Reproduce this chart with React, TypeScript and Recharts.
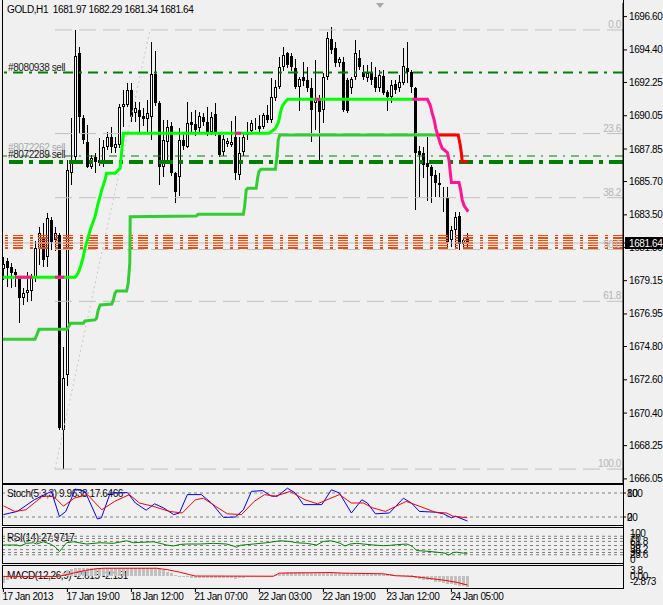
import React from 'react';
import { ComposedChart, Bar, Line, XAxis, YAxis, ReferenceLine, ReferenceDot } from 'recharts';

const FONT = '"Liberation Sans", Arial, sans-serif';
const TEXT = { fontFamily: FONT, fontSize: 10, letterSpacing: -0.4 };

// bar index axis: 0 = first visible H1 bar
const X_DOMAIN: [number, number] = [-0.1, 154.9];
const PRICE_DOMAIN: [number, number] = [1665.78, 1697.5];

const opens = [
  1679.90, 1680.47, 1680.03, 1679.70, 1679.31, 1677.99, 1678.32, 1678.50, 1679.42, 1681.25,
  1682.00, 1680.74, 1683.16, 1681.84, 1682.17, 1669.30, 1672.92, 1686.25, 1687.35, 1694.18,
  1689.90, 1688.34, 1686.69, 1687.30, 1687.13, 1686.90, 1688.00, 1688.67, 1687.90, 1688.12,
  1690.61, 1690.76, 1691.75, 1690.21, 1690.43, 1690.04, 1689.82, 1689.99, 1692.81, 1690.87,
  1686.69, 1688.34, 1689.38, 1686.25, 1686.03, 1688.45, 1688.01, 1689.66, 1689.50, 1689.22,
  1689.99, 1689.66, 1689.00, 1690.15, 1688.78, 1687.68, 1688.20, 1688.12, 1688.67, 1686.14,
  1687.68, 1688.78, 1689.07, 1689.72, 1689.38, 1689.33, 1690.10, 1689.77, 1691.20, 1691.97,
  1693.30, 1694.18, 1694.00, 1693.19, 1691.97, 1692.64, 1692.42, 1691.86, 1690.87, 1691.14,
  1690.43, 1692.64, 1695.10, 1694.51, 1693.52, 1693.63, 1692.42, 1691.86, 1692.64, 1693.85,
  1692.97, 1692.53, 1692.90, 1692.59, 1691.86, 1692.68, 1691.64, 1691.27, 1692.15, 1691.86,
  1692.24, 1693.19, 1692.97, 1691.86, 1687.75, 1687.57, 1686.91, 1686.69, 1686.14, 1685.63,
  1684.60, 1684.60, 1681.84, 1682.50, 1683.43, 1681.58, 1681.97,
];
const highs = [
  1680.74, 1680.63, 1680.30, 1679.90, 1679.42, 1678.65, 1679.75, 1679.60, 1681.80, 1682.72,
  1682.94, 1683.65, 1683.38, 1682.72, 1682.30, 1674.80, 1687.13, 1689.88, 1695.72, 1694.62,
  1690.10, 1689.44, 1687.46, 1687.57, 1688.56, 1688.45, 1689.00, 1689.33, 1688.67, 1690.80,
  1691.75, 1692.20, 1692.20, 1690.98, 1690.98, 1690.54, 1691.09, 1694.95, 1694.35, 1691.00,
  1689.77, 1689.77, 1689.66, 1686.36, 1689.22, 1688.89, 1690.98, 1690.32, 1690.43, 1690.32,
  1690.21, 1690.61, 1690.32, 1690.92, 1688.90, 1688.78, 1688.60, 1689.70, 1690.00, 1688.67,
  1688.90, 1689.66, 1689.77, 1689.90, 1690.10, 1690.20, 1690.76, 1692.53, 1692.40, 1693.96,
  1694.62, 1694.29, 1694.18, 1693.78, 1692.64, 1693.63, 1693.30, 1692.53, 1693.74, 1691.42,
  1692.86, 1695.61, 1695.94, 1694.95, 1693.90, 1693.96, 1692.53, 1692.64, 1695.06, 1694.40,
  1693.41, 1693.41, 1693.63, 1693.30, 1693.08, 1693.08, 1691.75, 1692.42, 1692.42, 1692.75,
  1694.51, 1694.95, 1693.08, 1691.97, 1688.05, 1688.00, 1688.67, 1686.80, 1686.47, 1686.25,
  1685.37, 1685.37, 1682.77, 1683.71, 1683.71, 1682.06, 1682.29,
];
const lows = [
  1679.20, 1678.76, 1678.65, 1678.76, 1676.38, 1677.55, 1677.77, 1677.80, 1679.09, 1680.20,
  1680.08, 1680.08, 1681.18, 1681.10, 1669.30, 1666.73, 1672.20, 1685.48, 1687.00, 1688.90,
  1688.20, 1686.60, 1686.50, 1686.25, 1686.70, 1686.69, 1687.80, 1687.60, 1687.60, 1687.90,
  1689.33, 1690.60, 1689.66, 1689.66, 1689.00, 1689.40, 1689.00, 1688.45, 1690.70, 1685.48,
  1686.03, 1687.13, 1686.10, 1684.31, 1684.75, 1687.80, 1687.90, 1688.90, 1688.70, 1689.00,
  1689.40, 1688.70, 1688.80, 1688.70, 1687.30, 1687.40, 1688.00, 1688.00, 1685.80, 1685.80,
  1687.40, 1688.45, 1688.90, 1689.10, 1689.00, 1689.20, 1689.60, 1689.55, 1691.00, 1691.80,
  1693.00, 1693.20, 1693.00, 1691.80, 1690.39, 1692.00, 1691.60, 1688.34, 1689.11, 1687.13,
  1689.55, 1692.40, 1694.10, 1693.30, 1693.30, 1690.32, 1690.20, 1691.50, 1692.40, 1693.10,
  1692.40, 1692.30, 1692.10, 1691.60, 1691.60, 1691.40, 1690.39, 1690.92, 1691.50, 1691.60,
  1692.08, 1692.20, 1691.53, 1683.82, 1684.70, 1685.92, 1684.40, 1684.27, 1684.70, 1684.70,
  1683.71, 1681.40, 1681.40, 1681.40, 1681.18, 1681.29, 1681.34,
];
const closes = [
  1680.25, 1679.97, 1679.64, 1679.50, 1677.99, 1678.32, 1678.54, 1679.30, 1681.30, 1682.28,
  1680.52, 1683.27, 1681.73, 1682.28, 1669.40, 1672.70, 1686.47, 1687.13, 1694.00, 1689.99,
  1688.45, 1686.69, 1687.24, 1687.00, 1686.91, 1688.00, 1688.67, 1688.00, 1688.19, 1690.61,
  1690.83, 1691.75, 1689.99, 1690.54, 1689.99, 1689.86, 1690.21, 1692.81, 1690.92, 1686.69,
  1688.45, 1689.33, 1686.29, 1685.04, 1688.45, 1688.05, 1689.55, 1689.44, 1689.11, 1690.04,
  1689.66, 1688.94, 1689.99, 1688.94, 1687.46, 1688.52, 1688.35, 1688.34, 1686.25, 1687.57,
  1688.63, 1689.00, 1689.60, 1689.77, 1689.15, 1690.10, 1689.77, 1691.31, 1691.97, 1693.30,
  1694.07, 1693.41, 1693.30, 1691.97, 1692.46, 1692.37, 1691.86, 1690.43, 1691.20, 1690.32,
  1692.64, 1695.17, 1694.40, 1693.56, 1693.78, 1690.43, 1690.39, 1692.46, 1694.18, 1693.30,
  1692.64, 1692.90, 1692.42, 1691.86, 1692.75, 1691.58, 1691.27, 1692.08, 1691.75, 1692.31,
  1693.34, 1692.97, 1691.97, 1687.61, 1687.46, 1686.80, 1686.69, 1686.07, 1685.63, 1685.48,
  1684.70, 1681.73, 1682.50, 1683.38, 1681.58, 1681.84, 1681.64,
];

const priceTicks = [
  1696.6, 1694.4, 1692.25, 1690.05, 1687.85, 1685.7, 1683.5, 1681.35,
  1679.15, 1676.95, 1674.8, 1672.6, 1670.4, 1668.25, 1666.05,
];
const BID = 1681.64;

// trend-stop lines, vertices as [bar index, price]
const limeLine: [number, number][] = [
  [-0.1, 1679.38], [17.9, 1679.38], [18.4, 1679.53], [18.9, 1679.79], [19.4, 1680.19], [19.9, 1680.65],
  [20.4, 1681.29], [21.7, 1682.5], [22.9, 1683.38], [23.7, 1684.27], [24.6, 1685.15], [25.4, 1685.81],
  [25.8, 1686.25], [27.9, 1686.25], [29.2, 1686.58], [29.6, 1687.79], [30.0, 1688.89], [66.4, 1688.89],
  [67.9, 1689.18], [68.7, 1689.58], [69.0, 1689.91], [69.4, 1690.43], [69.9, 1690.76], [70.5, 1690.98],
  [71.1, 1691.14], [102.2, 1691.14],
];
const limePinkA: [number, number][] = [[2.9, 1679.38], [7.2, 1679.38]];
const limePinkB: [number, number][] = [[12.9, 1679.38], [15.2, 1679.38]];
const limePinkC: [number, number][] = [[57.9, 1688.89], [59.4, 1688.89]];
const limePinkD: [number, number][] = [[77.9, 1691.14], [79.2, 1691.14]];
const pinkTail: [number, number][] = [
  [102.2, 1691.14], [106.0, 1691.14], [106.7, 1690.76], [107.2, 1690.22], [107.7, 1689.77], [108.1, 1689.22],
  [108.7, 1688.67], [109.2, 1688.23], [109.7, 1687.9], [111.0, 1687.61], [111.4, 1687.13], [111.7, 1686.36],
  [112.0, 1685.63], [113.9, 1685.63], [114.3, 1685.15], [114.7, 1684.49], [115.2, 1684.09], [116.2, 1683.71],
];
const greenLine: [number, number][] = [
  [-0.1, 1675.28], [7.9, 1675.28], [8.4, 1675.6], [8.9, 1675.94], [15.9, 1675.94], [16.3, 1676.1],
  [16.7, 1676.34], [20.0, 1676.34], [20.4, 1676.49], [22.9, 1676.56], [23.3, 1676.67], [23.7, 1677.22],
  [24.2, 1677.55], [27.1, 1677.61], [27.5, 1677.88], [27.9, 1678.32], [28.3, 1678.47], [30.8, 1678.47],
  [31.2, 1678.98], [31.6, 1680.3], [31.7, 1683.38], [48.2, 1683.43], [48.7, 1683.54], [60.0, 1683.54],
  [60.3, 1684.04], [60.7, 1685.15], [61.1, 1685.26], [63.2, 1685.26], [63.6, 1686.02], [63.9, 1686.36],
  [64.4, 1686.51], [68.0, 1686.51], [68.3, 1687.13], [68.6, 1688.01], [68.7, 1688.45], [69.1, 1688.78],
  [108.1, 1688.78],
];
const redTail: [number, number][] = [
  [108.1, 1688.78], [113.7, 1688.78], [114.2, 1688.12], [114.5, 1687.57], [114.7, 1687.02], [116.2, 1687.02],
];

// order lines
const sellOrderA = 1692.9;
const sellOrderB = 1687.39;
const sellStopB = 1687.0;
const pendingLevels = [1682.14, 1681.97, 1681.81, 1681.64, 1681.48, 1681.31];

// fibonacci retracement
const fibLow: [number, number] = [12.9, 1666.7];
const fibHigh: [number, number] = [36.65, 1695.72];
const fibRatios = [0, 23.6, 38.2, 50, 61.8, 100];

// Stochastic(5,3,3)
const stochK: [number, number][] = [
  [0, 26], [3.5, 34], [7.7, 63], [12, 84], [14, 21], [15.6, 34], [18, 90], [20.4, 84], [23.5, 15],
  [24.5, 18], [26.7, 80], [31, 81], [33, 55], [35.7, 37], [37.8, 53], [40, 43], [42.6, 26], [44, 30],
  [46, 76], [49.5, 76], [52, 55], [55, 19], [58, 20], [60, 38], [62, 84], [64.8, 86], [67, 72],
  [68.5, 72], [71, 92], [73, 80], [75, 51], [79.6, 51], [82, 88], [84, 80], [87, 30], [89.6, 63],
  [91, 55], [93, 28], [96.5, 30], [100, 67], [102, 55], [104, 34], [108, 32], [110, 28], [112, 18],
  [113, 22], [116, 10],
];
const stochD: [number, number][] = [
  [0, 48], [2.8, 34], [5.6, 38], [9.8, 72], [12.5, 72], [15, 47], [17.7, 67], [21, 76], [24.6, 38],
  [27.8, 59], [31.5, 76], [34, 55], [37.3, 47], [41.5, 34], [44.7, 30], [48, 63], [50, 67], [53, 47],
  [56, 28], [59.5, 26], [62.7, 59], [65.3, 76], [68, 72], [71.7, 84], [75.4, 63], [78.5, 53], [84, 76],
  [87, 55], [90, 55], [92.3, 43], [95.5, 34], [100.7, 59], [104, 47], [108, 32], [110.8, 30],
  [112.4, 22], [116, 18],
];

// RSI(14)
const rsi: [number, number][] = [
  [0, 51.4], [3.4, 51.4], [4.2, 48.6], [5.8, 56.2], [7.5, 57.9], [8.3, 54.2], [10, 60.7], [11.7, 54.2],
  [12.9, 46.6], [14, 32.6], [15, 46.6], [15.8, 57.9], [17.5, 60.7], [20.8, 54.2], [24.2, 57.9],
  [27.5, 56.2], [30.8, 63.5], [32.5, 57.9], [34.2, 59], [37.5, 60.7], [39.2, 56.2], [40.8, 51.4],
  [42.5, 48.6], [44.2, 53], [45.8, 54.2], [49.2, 54.2], [52.5, 56.2], [55.8, 54.2], [57.5, 48.6],
  [58.3, 44.9], [59.2, 50.5], [62.5, 54.2], [65.8, 57.9], [69.2, 63.5], [71.7, 61.5], [73.3, 57.9],
  [75.8, 56.2], [78.3, 51.4], [80, 61.5], [81.7, 63.5], [82.9, 60.7], [84.2, 56.2], [85.4, 48.6],
  [86.7, 54.2], [88.3, 56.2], [90, 54.2], [92.5, 51.4], [95, 49.5], [96.7, 50.5], [98.3, 52.3],
  [100.8, 54.2], [101.7, 50.5], [102.5, 44.9], [103.3, 35.5], [105.8, 33.7], [108.3, 30.9],
  [110.4, 28.1], [111.3, 22.5], [112.5, 30], [113.3, 30.9], [115, 28.1], [116, 28],
];
const rsiLevels = [76.4, 70, 61.8, 50, 38.2, 30, 23.6];
const rsiLabels = [100, 70, 61.8, 50, 38.2, 30, 23.6, 0];

// MACD(12,26,9)
const macdHist = [
  -1.6, -0.8, -0.05, -0.05, -0.05, -0.05, -0.05, -0.05, -0.05, -0.05,
  -0.05, -0.05, -0.05, -0.05, 0.2, 0.9, 1.4, 1.7, 1.95, 2.0,
  2.05, 2.1, 2.1, 2.05, 2.05, 2.1, 2.1, 2.05, 2.05, 2.1,
  2.1, 2.1, 2.05, 2.05, 2.0, 2.0, 2.0, 2.05, 1.95, 1.7,
  1.4, 1.1, 0.76, 0.36, 0.12, -0.05, -0.3, -0.4, -0.45, -0.5,
  -0.45, -0.4, -0.35, -0.4, -0.5, -0.55, -0.5, -0.45, -0.6, -0.5,
  -0.4, -0.3, -0.2, -0.15, -0.1, -0.05, 0.05, 0.15, 0.36, 0.76,
  0.9, 1.0, 1.05, 1.0, 0.95, 0.95, 0.9, 0.85, 0.85, 0.8,
  0.85, 1.0, 0.95, 0.9, 0.85, 0.75, 0.7, 0.65, 0.75, 0.75,
  0.7, 0.65, 0.6, 0.55, 0.55, 0.5, 0.45, 0.45, 0.4, 0.35,
  0.4, 0.35, 0.2, -0.4, -0.6, -0.8, -0.9, -1.0, -1.3, -1.5,
  -1.6, -1.8, -1.9, -2.1, -2.3, -2.45, -2.6,
];
const macdSignal: [number, number][] = [
  [0, -0.05], [13.5, -0.05], [16, 0.4], [18, 0.9], [20.5, 1.4], [23, 1.8], [25, 1.95], [38.3, 1.95],
  [41, 1.6], [44, 1.0], [46.5, 0.4], [48, 0.05], [67.5, 0.0], [69, 0.76], [81.7, 0.9], [85, 0.76],
  [95, 0.6], [98, 0.12], [102.4, -0.05], [107, -0.6], [110.4, -1.0], [113.3, -1.48], [116, -2.15],
];
const MACD_DOMAIN: [number, number] = [-2.873, 2.74];

const timeTicks = [0, 16, 32, 48, 64, 80, 96, 112];
const timeLabels = [
  '17 Jan 2013', '17 Jan 19:00', '18 Jan 12:00', '21 Jan 07:00',
  '22 Jan 03:00', '22 Jan 19:00', '23 Jan 12:00', '24 Jan 05:00',
];

const candles = opens.map((o, i) => ({
  i, o, h: highs[i], l: lows[i], c: closes[i], range: [lows[i], highs[i]],
}));
const macdRows = macdHist.map((h, i) => ({ i, h }));
const pts = (a: [number, number][]) => a.map(([i, v]) => ({ i, v }));

function Candle(props: any) {
  const { x, y, width, height, payload } = props;
  if (x == null || y == null || !payload) return null;
  const { o, h, l, c } = payload;
  const top = height >= 0 ? y : y + height;
  const hgt = Math.abs(height);
  const k = h > l ? hgt / (h - l) : 0;
  const py = (p: number) => top + (h - p) * k;
  const cx = Math.floor(x + width / 2) + 0.5;
  const yh = Math.round(py(h));
  const yl = Math.round(py(l));
  const bt = Math.round(py(Math.max(o, c)));
  let bb = Math.round(py(Math.min(o, c)));
  if (bb <= bt) bb = bt + 1;
  return (
    <g>
      <line x1={cx} x2={cx} y1={yh} y2={yl} stroke="#000" strokeWidth={1} />
      {c >= o ? (
        <rect x={cx - 1} y={bt + 0.5} width={2} height={Math.max(0, bb - bt - 1)} fill="#fff" stroke="#000" strokeWidth={1} />
      ) : (
        <rect x={cx - 1.5} y={bt} width={3} height={bb - bt} fill="#000" />
      )}
    </g>
  );
}

// histogram column, 3px wide, snapped to whole pixels
function HistBar(props: any) {
  const { x, y, width, height } = props;
  if (x == null || y == null) return null;
  const top = Math.round(height >= 0 ? y : y + height);
  const bottom = Math.round(height >= 0 ? y + height : y);
  const cx = Math.floor(x + width / 2);
  return <rect x={cx - 1} y={top} width={3} height={Math.max(1, bottom - top)} fill="#c0c0c0" />;
}

function PriceTick(props: any) {
  const { x, y, payload } = props;
  const v = payload.value;
  if (v === BID) {
    return (
      <g>
        <rect x={625} y={y - 6} width={38} height={12} fill="#000" />
        <text x={629} y={y} dy="0.35em" fill="#fff" style={TEXT}>{v.toFixed(2)}</text>
      </g>
    );
  }
  return <text x={x} y={y} dy="0.35em" textAnchor="start" fill="#000" style={TEXT}>{v.toFixed(2)}</text>;
}

function TimeTick(props: any) {
  const { x, y, payload } = props;
  const label = timeLabels[timeTicks.indexOf(payload.value)];
  return <text x={x - 1} y={y} dy="0.71em" textAnchor="start" fill="#000" style={TEXT}>{label}</text>;
}

const lineProps = { dataKey: 'v', type: 'linear' as const, dot: false, activeDot: false, isAnimationActive: false };

function MainChart() {
  const fibLevels = fibRatios.map((r) => fibHigh[1] - (r / 100) * (fibHigh[1] - fibLow[1]));
  return (
    <ComposedChart width={663} height={484} data={candles} margin={{ top: 3, right: 0, bottom: 1, left: 3 }}>
      <XAxis dataKey="i" type="number" domain={X_DOMAIN} allowDataOverflow hide />
      <YAxis
        orientation="right"
        type="number"
        domain={PRICE_DOMAIN}
        allowDataOverflow
        ticks={[...priceTicks, BID]}
        interval={0}
        width={40}
        tickSize={4}
        tickMargin={2}
        axisLine={{ stroke: '#000' }}
        tickLine={{ stroke: '#000' }}
        tick={(p: any) => <PriceTick {...p} />}
      />
      {fibLevels.map((lv) => (
        <ReferenceLine
          key={'fib' + lv}
          segment={[{ x: fibLow[0], y: lv }, { x: X_DOMAIN[1], y: lv }]}
          stroke="#c0c0c0"
          strokeDasharray="17 7"
        />
      ))}
      <ReferenceLine
        segment={[{ x: fibLow[0], y: fibLow[1] }, { x: fibHigh[0], y: fibHigh[1] }]}
        stroke="#c8c8c8"
        strokeDasharray="2 3"
      />
      {fibLevels.map((lv, k) => (
        <ReferenceDot
          key={'fibl' + lv}
          x={X_DOMAIN[1]}
          y={lv}
          r={0}
          ifOverflow="visible"
          shape={(p: any) => (
            <text x={p.cx - 2} y={p.cy - 2} textAnchor="end" fill="#b4b4b4" style={TEXT}>
              {fibRatios[k].toFixed(1)}
            </text>
          )}
        />
      ))}
      {pendingLevels.map((lv) => (
        <ReferenceLine
          key={'pd' + lv}
          y={lv}
          stroke="#ff4500"
          strokeWidth={1.8}
          strokeDasharray="10 5 3 7"
          shapeRendering="crispEdges"
        />
      ))}
      <ReferenceLine y={BID} stroke="#c0c0c0" />
      <ReferenceLine y={sellOrderA} stroke="#008000" strokeWidth={2} strokeDasharray="10 6 3 6" />
      <ReferenceLine y={sellOrderB} stroke="#008000" strokeWidth={1} strokeDasharray="8 6 2 6" />
      <ReferenceLine y={sellStopB} stroke="#008000" strokeWidth={4} strokeDasharray="14 6 4 6" />
      <ReferenceDot
        x={X_DOMAIN[0]}
        y={sellOrderA}
        r={0}
        ifOverflow="visible"
        shape={(p: any) => (
          <text x={p.cx + 5} y={p.cy - 1.5} fill="#202020" style={TEXT}>#8080938 sell</text>
        )}
      />
      <ReferenceDot
        x={X_DOMAIN[0]}
        y={sellOrderB}
        r={0}
        ifOverflow="visible"
        shape={(p: any) => (
          <g>
            <text x={p.cx + 5} y={p.cy - 5} fill="#a8a8a8" style={TEXT}>#8072262 sell</text>
            <text x={p.cx + 5} y={p.cy + 2} fill="#202020" style={TEXT}>#8072289 sell</text>
          </g>
        )}
      />
      <Bar dataKey="range" barSize={3} shape={(p: any) => <Candle {...p} />} isAnimationActive={false} />
      <Line data={pts(greenLine)} {...lineProps} stroke="#32cd32" strokeWidth={3} />
      <Line data={pts(redTail)} {...lineProps} stroke="#ff0000" strokeWidth={3} />
      <Line data={pts(limeLine)} {...lineProps} stroke="#00ff00" strokeWidth={3} />
      <Line data={pts(limePinkA)} {...lineProps} stroke="#ff1493" strokeWidth={3} />
      <Line data={pts(limePinkB)} {...lineProps} stroke="#ff1493" strokeWidth={3} />
      <Line data={pts(limePinkC)} {...lineProps} stroke="#ff1493" strokeWidth={3} />
      <Line data={pts(limePinkD)} {...lineProps} stroke="#ff1493" strokeWidth={3} />
      <Line data={pts(pinkTail)} {...lineProps} stroke="#ff1493" strokeWidth={3} />
    </ComposedChart>
  );
}

function StochChart() {
  return (
    <ComposedChart width={663} height={40} margin={{ top: 0, right: 0, bottom: 0, left: 3 }}>
      <XAxis dataKey="i" type="number" domain={X_DOMAIN} allowDataOverflow hide />
      <YAxis
        orientation="right"
        type="number"
        domain={[0, 100]}
        ticks={[80, 20]}
        interval={0}
        width={40}
        tickSize={3}
        tickMargin={1}
        axisLine={false}
        tickLine={{ stroke: '#000' }}
        tick={(p: any) => (
          <g>
            <text x={p.x} y={p.y} dy="0.35em" fill="#000" style={TEXT}>{p.payload.value}</text>
            <text x={p.x} y={p.y} dy="0.35em" fill="#000" style={TEXT}>{p.payload.value === 80 ? '100' : '0'}</text>
          </g>
        )}
      />
      <ReferenceLine y={80} stroke="#808080" strokeDasharray="3 3" />
      <ReferenceLine y={20} stroke="#808080" strokeDasharray="3 3" />
      <Line data={pts(stochK)} {...lineProps} stroke="#0000ff" strokeWidth={1} />
      <Line data={pts(stochD)} {...lineProps} stroke="#ff0000" strokeWidth={1} />
    </ComposedChart>
  );
}

function RsiChart() {
  return (
    <ComposedChart width={663} height={35} margin={{ top: 0, right: 0, bottom: 0, left: 3 }}>
      <XAxis dataKey="i" type="number" domain={X_DOMAIN} allowDataOverflow hide />
      <YAxis
        orientation="right"
        type="number"
        domain={[0, 100]}
        ticks={rsiLabels}
        interval={0}
        width={40}
        tickSize={3}
        tickMargin={1}
        axisLine={false}
        tickLine={false}
        tick={(p: any) => {
          const v = p.payload.value;
          const yy = v === 100 ? p.y + 5 : v === 0 ? p.y - 4 : p.y;
          return <text x={p.x + 3} y={yy} dy="0.35em" fill="#000" style={TEXT}>{v}</text>;
        }}
      />
      {rsiLevels.map((lv) => (
        <ReferenceLine key={'r' + lv} y={lv} stroke="#808080" strokeDasharray="3 3" />
      ))}
      <Line data={pts(rsi)} {...lineProps} stroke="#008000" strokeWidth={1} />
    </ComposedChart>
  );
}

function MacdChart() {
  return (
    <ComposedChart width={663} height={40} data={macdRows} margin={{ top: 0, right: 0, bottom: 0, left: 3 }}>
      <XAxis
        dataKey="i"
        type="number"
        domain={X_DOMAIN}
        allowDataOverflow
        ticks={timeTicks}
        interval={0}
        height={17}
        tickSize={4}
        tickMargin={1}
        axisLine={false}
        tickLine={{ stroke: '#000' }}
        tick={(p: any) => <TimeTick {...p} />}
      />
      <YAxis
        orientation="right"
        type="number"
        domain={MACD_DOMAIN}
        allowDataOverflow
        ticks={[0]}
        interval={0}
        width={40}
        tickSize={3}
        tickMargin={1}
        axisLine={false}
        tickLine={false}
        tick={(p: any) => (
          <g>
            <text x={p.x + 3} y={p.y - 6} dy="0.35em" fill="#000" style={TEXT}>3.8</text>
            <text x={p.x + 3} y={p.y} dy="0.35em" fill="#000" style={TEXT}>0.00</text>
            <text x={p.x + 3} y={p.y + 5.5} dy="0.35em" fill="#000" style={TEXT}>-2.873</text>
          </g>
        )}
      />
      <Bar dataKey="h" barSize={3} shape={(p: any) => <HistBar {...p} />} isAnimationActive={false} />
      <Line data={pts(macdSignal)} {...lineProps} stroke="#ff0000" strokeWidth={1} />
    </ComposedChart>
  );
}

const label: React.CSSProperties = {
  position: 'absolute',
  fontFamily: FONT,
  fontSize: 10,
  letterSpacing: -0.4,
  lineHeight: '12px',
  whiteSpace: 'pre',
  color: '#000',
};
const box = (top: number, height: number): React.CSSProperties => ({
  position: 'absolute',
  left: 2,
  top,
  width: 622,
  height,
  border: '1px solid #000',
  boxSizing: 'border-box',
  pointerEvents: 'none',
});

export default function App() {
  const last = candles[candles.length - 1];
  const title = `GOLD,H1  ${last.o.toFixed(2)} ${last.h.toFixed(2)} ${last.l.toFixed(2)} ${last.c.toFixed(2)}`;
  return (
    <div style={{ position: 'absolute', left: 0, top: 0, width: 663, height: 605, background: '#f0f0f0', overflow: 'hidden' }}>
      <div style={{ ...label, left: 7, top: 4 }}>{title}</div>
      <div style={{ ...label, left: 7, top: 488 }}>Stoch(5,3,3) 9.9638 17.6466</div>
      <div style={{ ...label, left: 7, top: 532 }}>RSI(14) 27.9717</div>
      <div style={{ ...label, left: 7, top: 570 }}>MACD(12,26,9) -2.615 -2.151</div>
      <div style={{ position: 'absolute', left: 376, top: 3, width: 0, height: 0, borderLeft: '4px solid transparent', borderRight: '4px solid transparent', borderTop: '5px solid #a8a8a8' }} />
      <div style={{ position: 'absolute', left: 0, top: 0 }}><MainChart /></div>
      <div style={{ position: 'absolute', left: 0, top: 485 }}><StochChart /></div>
      <div style={{ position: 'absolute', left: 0, top: 528 }}><RsiChart /></div>
      <div style={{ position: 'absolute', left: 0, top: 565 }}><MacdChart /></div>
      <div style={{ position: 'absolute', left: 2, top: 0, width: 1, height: 484, background: '#000' }} />
      <div style={{ position: 'absolute', left: 2, top: 483, width: 622, height: 1, background: '#000' }} />
      <div style={box(484, 42)} />
      <div style={box(527, 37)} />
      <div style={box(565, 24)} />
      <div style={{ position: 'absolute', left: 623, top: 0, width: 1, height: 589, background: '#000' }} />
    </div>
  );
}
